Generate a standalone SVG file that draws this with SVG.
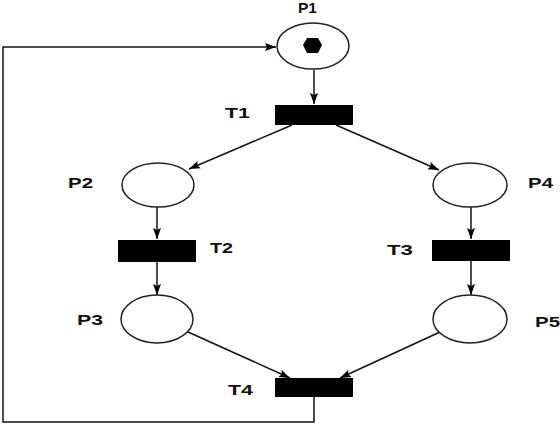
<svg xmlns="http://www.w3.org/2000/svg" width="560" height="424" viewBox="0 0 560 424">
<style>
.place{fill:#fff;stroke:#222;stroke-width:1.5}
.trans{fill:#000}
.lbl{font-family:"Liberation Sans",Arial,sans-serif;font-weight:bold;font-size:14px;fill:#111}
.edge{fill:none;stroke:#111;stroke-width:1.5}
</style>
<defs>
<marker id="arr" markerWidth="11" markerHeight="9" refX="11" refY="4.5" orient="auto" markerUnits="userSpaceOnUse">
<path d="M0,0.5 L11,4.5 L0,8.5 L2,4.5 z" fill="#000"/>
</marker>
</defs>
<rect width="560" height="424" fill="#fff"/>
<g id="connectors">
<line class="edge" x1="314" y1="70" x2="314" y2="104" marker-end="url(#arr)"/>
<line class="edge" x1="292" y1="125" x2="189" y2="169" marker-end="url(#arr)"/>
<line class="edge" x1="336" y1="125" x2="439" y2="170" marker-end="url(#arr)"/>
<line class="edge" x1="157" y1="207" x2="157" y2="239" marker-end="url(#arr)"/>
<line class="edge" x1="157" y1="262" x2="157" y2="295" marker-end="url(#arr)"/>
<line class="edge" x1="471" y1="207" x2="471" y2="239" marker-end="url(#arr)"/>
<line class="edge" x1="471" y1="261" x2="471" y2="295" marker-end="url(#arr)"/>
<line class="edge" x1="188" y1="332" x2="290" y2="378" marker-end="url(#arr)"/>
<line class="edge" x1="440" y1="332" x2="340" y2="378" marker-end="url(#arr)"/>
<polyline class="edge" points="314,397 314,422 3,422 3,47 276,47" stroke-width="2" marker-end="url(#arr)"/>
</g>
<g id="P1">
<ellipse class="place" cx="313" cy="46" rx="36" ry="23"/>
<path d="M303,45 L307,38 L318,38 L322,45 L318,53 L307,53 z" fill="#000"/>
<text class="lbl" x="298" y="13" textLength="19" lengthAdjust="spacingAndGlyphs">P1</text>
</g>
<g id="T1">
<rect class="trans" x="275" y="105" width="78" height="20"/>
<text class="lbl" x="225" y="118" textLength="25" lengthAdjust="spacingAndGlyphs">T1</text>
</g>
<g id="P2">
<ellipse class="place" cx="158" cy="185" rx="36" ry="22"/>
<text class="lbl" x="68" y="188" textLength="25" lengthAdjust="spacingAndGlyphs">P2</text>
</g>
<g id="T2">
<rect class="trans" x="118" y="240" width="78" height="22"/>
<text class="lbl" x="210" y="253" textLength="23" lengthAdjust="spacingAndGlyphs">T2</text>
</g>
<g id="P3">
<ellipse class="place" cx="157" cy="319" rx="36" ry="24"/>
<text class="lbl" x="77" y="325" textLength="26" lengthAdjust="spacingAndGlyphs">P3</text>
</g>
<g id="P4">
<ellipse class="place" cx="470" cy="185" rx="37" ry="22"/>
<text class="lbl" x="528" y="188" textLength="25" lengthAdjust="spacingAndGlyphs">P4</text>
</g>
<g id="T3">
<rect class="trans" x="432" y="240" width="78" height="21"/>
<text class="lbl" x="387" y="255" textLength="26" lengthAdjust="spacingAndGlyphs">T3</text>
</g>
<g id="P5">
<ellipse class="place" cx="470" cy="319" rx="37" ry="24"/>
<text class="lbl" x="535" y="327" textLength="25" lengthAdjust="spacingAndGlyphs">P5</text>
</g>
<g id="T4">
<rect class="trans" x="275" y="378" width="78" height="19"/>
<text class="lbl" x="228" y="395" textLength="25" lengthAdjust="spacingAndGlyphs">T4</text>
</g>
</svg>
